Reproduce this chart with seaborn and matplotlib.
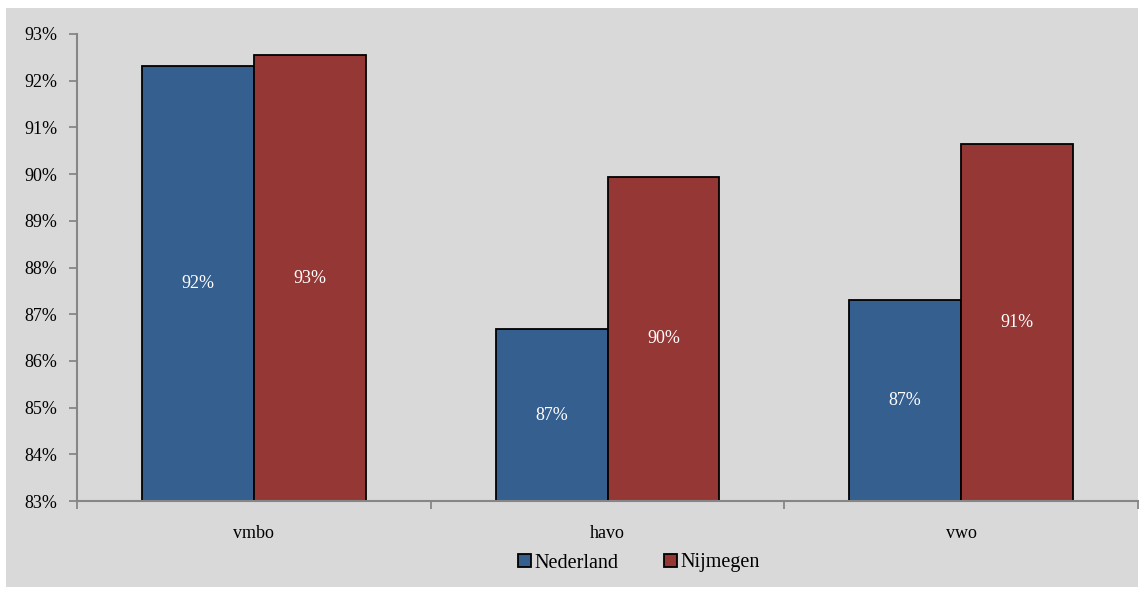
import pandas as pd
import matplotlib.pyplot as plt
import matplotlib.patches as mpatches
import seaborn as sns

categories = ['vmbo', 'havo', 'vwo']
series = ['Nederland', 'Nijmegen']
nederland = [92.31, 86.68, 87.30]
nijmegen = [92.55, 89.94, 90.64]
colors = ['#355F8F', '#953735']

df = pd.DataFrame({
    'niveau': categories * 2,
    'regio': [series[0]] * 3 + [series[1]] * 3,
    'waarde': nederland + nijmegen,
})

sns.set_style('white')
plt.rcParams['font.family'] = ['Liberation Serif', 'DejaVu Serif']
plt.rcParams['text.color'] = 'black'

fig = plt.figure(figsize=(11.43, 5.89), dpi=100, facecolor='white')
W, H = 1143, 589
# grey chart area behind everything
fig.patches.append(mpatches.Rectangle((6 / W, 2 / H), 1132 / W, 579 / H,
                                      transform=fig.transFigure, facecolor='#d9d9d9',
                                      edgecolor='none', zorder=-10))
ax = fig.add_axes([77 / W, 1 - 501 / H, (1138 - 77) / W, (501 - 34) / H])
ax.set_facecolor('none')
ax.set_zorder(1)

sns.barplot(data=df, x='niveau', y='waarde', hue='regio', palette=colors, saturation=1,
            width=0.633, edgecolor='black', linewidth=1.3, ax=ax, legend=False)

ax.set_ylim(83, 93)
ax.set_xlim(-0.5, 2.5)
ax.set_yticks(range(83, 94))
ax.set_yticklabels([f'{v}%' for v in range(83, 94)], fontsize=13)
ax.set_xticks(range(3))
ax.set_xticklabels(categories, fontsize=13)
ax.set_xticks([-0.5, 0.5, 1.5, 2.5], minor=True)
ax.tick_params(axis='x', which='major', bottom=False, length=0, pad=17, labelcolor='black')
ax.tick_params(axis='x', which='minor', bottom=True, length=6, width=1.3, color='#868686', direction='out')
ax.tick_params(axis='y', left=True, length=6, width=1.3, color='#868686', direction='out',
               pad=8, labelcolor='black')
ax.set_xlabel('')
ax.set_ylabel('')
for s in ['top', 'right']:
    ax.spines[s].set_visible(False)
for s in ['left', 'bottom']:
    ax.spines[s].set_color('#868686')
    ax.spines[s].set_linewidth(1.5)

for cont in ax.containers:
    for bar in cont:
        h = bar.get_height()
        ax.text(bar.get_x() + bar.get_width() / 2, (83 + h) / 2, f'{round(h)}%',
                ha='center', va='center', color='white', fontsize=13)

handles = [mpatches.Patch(facecolor=c, edgecolor='black', linewidth=1.3, label=l)
           for c, l in zip(colors, series)]
fig.legend(handles=handles, loc='center', bbox_to_anchor=(0.559, 1 - 563 / H), ncol=2,
           frameon=False, fontsize=14.5, handlelength=0.65, handleheight=0.65,
           handletextpad=0.15, columnspacing=2.3)

fig.savefig('out.png', dpi=100)
